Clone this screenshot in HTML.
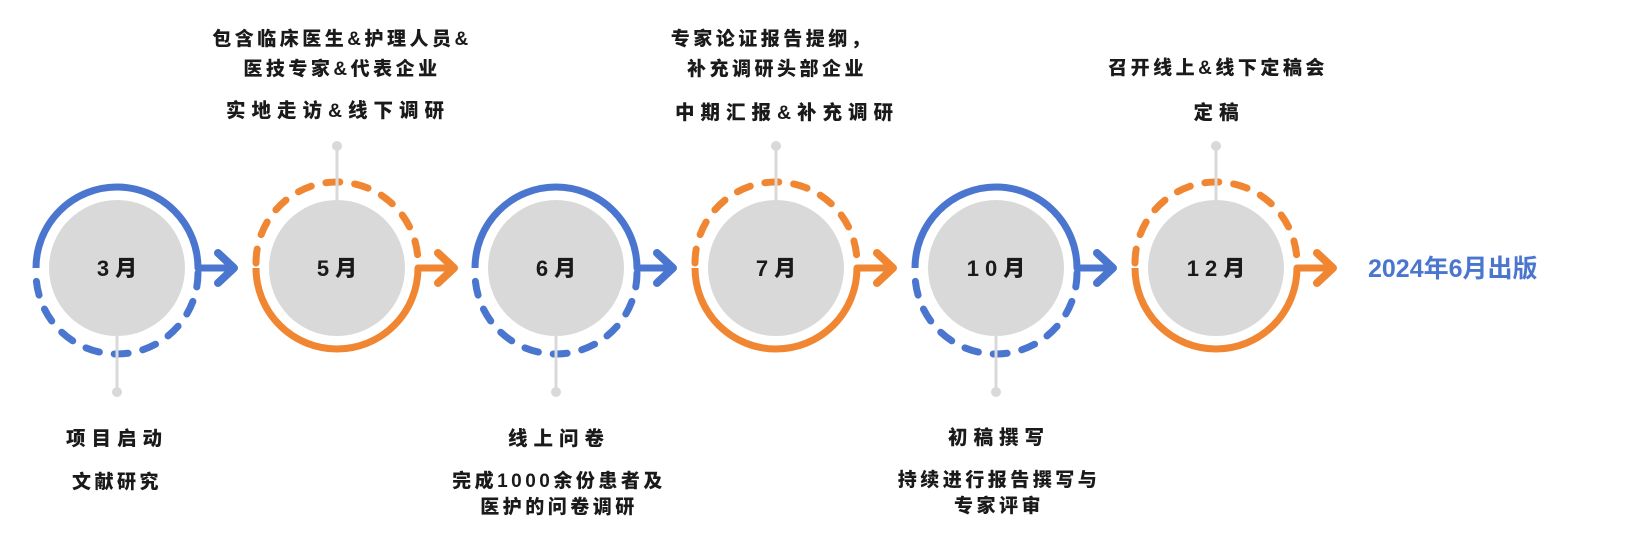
<!DOCTYPE html>
<html><head><meta charset="utf-8"><style>
html,body{margin:0;padding:0;background:#fff;}
svg{display:block;}
text{font-family:"Liberation Sans","Noto Sans CJK SC",sans-serif;font-weight:900;fill:#1a1a1a;}
.s{font-size:19px;letter-spacing:3.5px;}
.t{font-size:19.5px;letter-spacing:6px;}
.m{font-size:22px;letter-spacing:6px;}
</style></head><body>
<svg width="1634" height="543" viewBox="0 0 1634 543" xmlns="http://www.w3.org/2000/svg">
<defs>
<g id="blue">
  <path d="M-81,0 A81,81 0 0 1 81,0 L116,0" fill="none" stroke="#4a76cf" stroke-width="7" stroke-linejoin="round"/>
  <path d="M81,5 A81,81 0 0 1 -81,5" fill="none" stroke="#4a76cf" stroke-width="7" stroke-linecap="round" stroke-dasharray="14 15"/>
  <path d="M101,-15 L117,0 L101,15" fill="none" stroke="#4a76cf" stroke-width="8" stroke-linecap="round" stroke-linejoin="round"/>
  <circle r="68" fill="#d9d9d9"/>
  <line x1="0" y1="68" x2="0" y2="124" stroke="#d9d9d9" stroke-width="3"/>
  <circle cx="0" cy="124" r="5" fill="#d9d9d9"/>
</g>
<g id="orange">
  <path d="M-81,0 A81,81 0 0 0 81,0 L116,0" fill="none" stroke="#f08632" stroke-width="7" stroke-linejoin="round"/>
  <path d="M-81,-5 A81,81 0 0 1 81,-5" fill="none" stroke="#f08632" stroke-width="7" stroke-linecap="round" stroke-dasharray="14 15"/>
  <path d="M101,-15 L117,0 L101,15" fill="none" stroke="#f08632" stroke-width="8" stroke-linecap="round" stroke-linejoin="round"/>
  <circle r="68" fill="#d9d9d9"/>
  <line x1="0" y1="-68" x2="0" y2="-122" stroke="#d9d9d9" stroke-width="3"/>
  <circle cx="0" cy="-122" r="5" fill="#d9d9d9"/>
</g>
</defs>
<use href="#blue" x="117" y="268"/>
<use href="#orange" x="337" y="268"/>
<use href="#blue" x="556" y="268"/>
<use href="#orange" x="776" y="268"/>
<use href="#blue" x="996" y="268"/>
<use href="#orange" x="1216" y="268"/>

<text class="m" x="120" y="276" text-anchor="middle">3月</text>
<text class="m" x="340" y="276" text-anchor="middle">5月</text>
<text class="m" x="559" y="276" text-anchor="middle">6月</text>
<text class="m" x="779" y="276" text-anchor="middle">7月</text>
<text class="m" x="999" y="276" text-anchor="middle">10月</text>
<text class="m" x="1219" y="276" text-anchor="middle">12月</text>

<text x="1368" y="277" style="font-size:25px;fill:#4a76cf;font-weight:700;">2024年6月出版</text>

<text class="t" x="117" y="445" text-anchor="middle">项目启动</text>
<text class="s" x="117" y="488" text-anchor="middle">文献研究</text>

<text class="s" x="342" y="45" text-anchor="middle">包含临床医生&amp;护理人员&amp;</text>
<text class="s" x="342" y="75" text-anchor="middle">医技专家&amp;代表企业</text>
<text class="t" x="338" y="117" text-anchor="middle">实地走访&amp;线下调研</text>

<text class="t" x="559" y="445" text-anchor="middle">线上问卷</text>
<text class="s" x="559" y="487" text-anchor="middle">完成1000余份患者及</text>
<text class="s" x="559" y="513" text-anchor="middle">医护的问卷调研</text>

<text class="s" x="772" y="45" text-anchor="middle">专家论证报告提纲，</text>
<text class="s" x="777" y="75" text-anchor="middle">补充调研头部企业</text>
<text class="t" x="787" y="119" text-anchor="middle">中期汇报&amp;补充调研</text>

<text class="t" x="999" y="444" text-anchor="middle">初稿撰写</text>
<text class="s" x="999" y="486" text-anchor="middle">持续进行报告撰写与</text>
<text class="s" x="999" y="512" text-anchor="middle">专家评审</text>

<text class="s" x="1218" y="74" text-anchor="middle">召开线上&amp;线下定稿会</text>
<text class="t" x="1219" y="119" text-anchor="middle">定稿</text>
</svg>
</body></html>
